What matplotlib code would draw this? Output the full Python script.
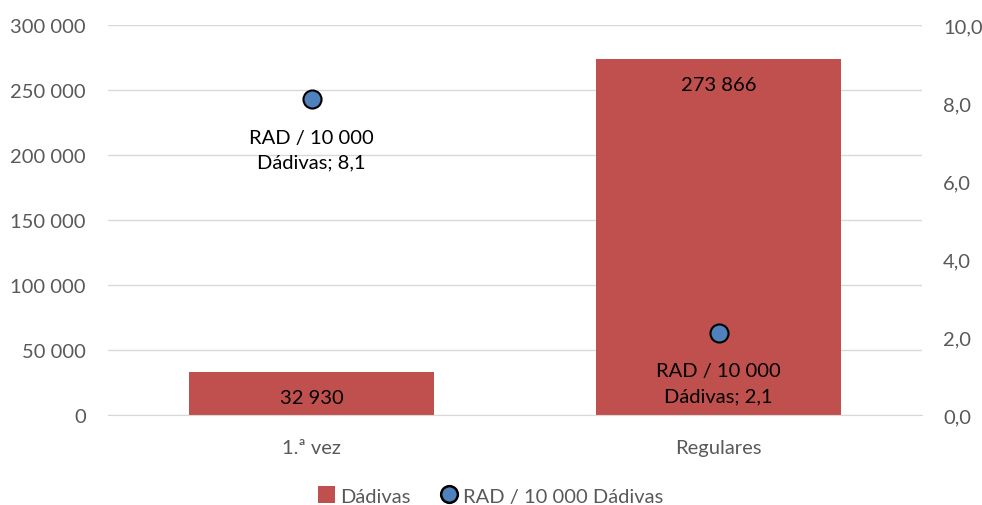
import matplotlib.pyplot as plt
from matplotlib.lines import Line2D
from matplotlib.patches import Patch

categorias = ['1.ª vez', 'Regulares']
dadivas = [32930, 273866]
rad = [8.1, 2.1]
rotulos_dadivas = ['32 930', '273 866']
rotulos_rad = ['RAD / 10 000\nDádivas; 8,1', 'RAD / 10 000\nDádivas; 2,1']
ticks_esq = [0, 50000, 100000, 150000, 200000, 250000, 300000]
ticks_esq_txt = ['0', '50 000', '100 000', '150 000', '200 000', '250 000', '300 000']
ticks_dir = [0, 2, 4, 6, 8, 10]
ticks_dir_txt = ['0,0', '2,0', '4,0', '6,0', '8,0', '10,0']

plt.rcParams['font.family'] = ['Lato', 'DejaVu Sans']
cor_barra = '#C0504D'
cor_ponto = '#4F81BD'
cinza = '#595959'

fig, ax = plt.subplots(figsize=(9.82, 5.06), dpi=100)
fig.subplots_adjust(left=0.11, right=0.939, top=0.948, bottom=0.178)

x = range(len(categorias))
ax.bar(x, dadivas, width=0.6, color=cor_barra, zorder=2)
ax.set_xlim(-0.5, 1.5)
ax.set_ylim(0, 300000)
ax.set_yticks(ticks_esq)
ax.set_yticklabels(ticks_esq_txt)
ax.set_xticks(list(x))
ax.set_xticklabels(categorias)
ax.grid(axis='y', color='#D9D9D9', linewidth=1, zorder=0)
for s in ['top', 'left', 'right']:
    ax.spines[s].set_visible(False)
ax.spines['bottom'].set_color('#D9D9D9')
ax.tick_params(length=0, labelsize=14.5, colors=cinza, pad=16)
ax.tick_params(axis='x', pad=17)

# rotulos das barras
for i, v in enumerate(dadivas):
    ax.annotate(rotulos_dadivas[i], (i, v), xytext=(0, -18.5), textcoords='offset points',
                ha='center', va='center', fontsize=14.5, color='black', zorder=4)

ax2 = ax.twinx()
ax2.set_ylim(0, 10)
ax2.set_yticks(ticks_dir)
ax2.set_yticklabels(ticks_dir_txt)
for s in ['top', 'left', 'right', 'bottom']:
    ax2.spines[s].set_visible(False)
ax2.tick_params(length=0, labelsize=14.5, colors=cinza, pad=15)
ax2.plot(list(x), rad, linestyle='none', marker='o', markersize=13,
         markerfacecolor=cor_ponto, markeredgecolor='black', markeredgewidth=1.5, zorder=5)
for i, v in enumerate(rad):
    ax2.text(i, v - 0.75, rotulos_rad[i], ha='center', va='top',
             fontsize=14.5, color='black', linespacing=1.55)

handles = [Patch(facecolor=cor_barra, edgecolor='none'),
           Line2D([], [], linestyle='none', marker='o', markersize=12,
                  markerfacecolor=cor_ponto, markeredgecolor='black', markeredgewidth=1.8)]
fig.legend(handles, ['Dádivas', 'RAD / 10 000 Dádivas'], loc='lower center',
           ncol=2, frameon=False, fontsize=14.5, labelcolor=cinza,
           bbox_to_anchor=(0.5, -0.035), handlelength=0.8, handleheight=0.9,
           handletextpad=0.3, columnspacing=1.5)

fig.savefig('out.png', dpi=100)
